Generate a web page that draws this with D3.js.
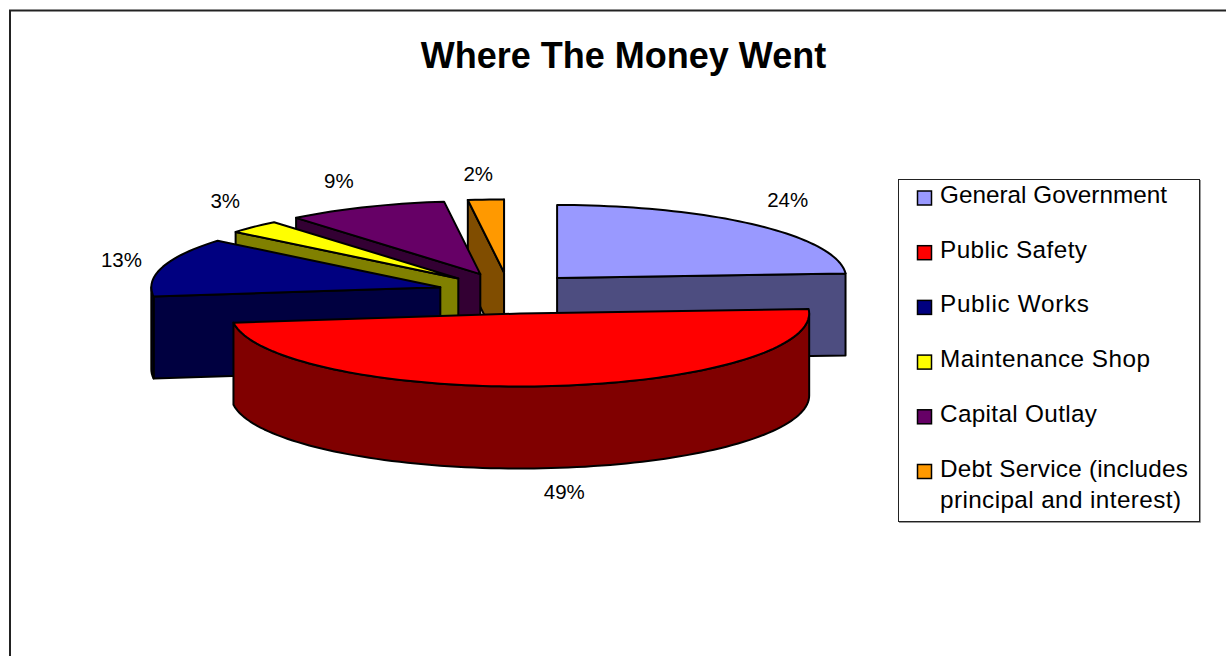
<!DOCTYPE html>
<html>
<head>
<meta charset="utf-8">
<script src="https://cdn.jsdelivr.net/npm/d3@7"></script>
<style>
  body { margin: 0; background: #fff; }
  text { font-family: "Liberation Sans", Arial, sans-serif; fill: #000; }
</style>
</head>
<body>
<div id="chart"></div>
<script>
// chart data
var categories = ["General Government", "Public Safety", "Public Works", "Maintenance Shop", "Capital Outlay", "Debt Service (includes principal and interest)"];
var percents = [24, 49, 13, 3, 9, 2];
var topColors = ["#9999ff", "#ff0000", "#000080", "#ffff00", "#660066", "#ff9900"];
var sideColors = ["#4d4d80", "#800000", "#000040", "#808000", "#330033", "#804d00"];
var legendLines = [["General Government"], ["Public Safety"], ["Public Works"], ["Maintenance Shop"], ["Capital Outlay"], ["Debt Service (includes", "principal and interest)"]];

// layout of the tilted pie
var width = 1226, height = 656;
var baseX = 508.5, baseY = 293;
var radiusX = 289, radiusY = 73, depth = 82;
var explodeX = 71, explodeY = 20.6;
var labelGapX = 42, labelGapY = 27;
// hand placed corrections, same order as categories
var centerNudge = [0, 5, 0, 0, 0, 0];
var labelNudge = [[4, -5], [13, -3], [-1, 1], [1, -7], [-10, -1], [-5, 1]];
// legend text widths as they come out in the picture
var legendWidths = [[227], [147], [149], [210], [157], [248, 241]];

var svg = d3.select("#chart")
  .append("svg")
  .attr("width", width)
  .attr("height", height)
  .style("display", "block");

// outer frame, only left and top edges are in the picture
svg.append("path")
  .attr("d", d3.line()([[10, height], [10, 10.5], [width, 10.5]]))
  .attr("fill", "none")
  .attr("stroke", "#222")
  .attr("stroke-width", 2);

svg.append("text")
  .attr("x", 623.5)
  .attr("y", 68)
  .attr("text-anchor", "middle")
  .style("font-size", "36px")
  .style("font-weight", "bold")
  .text("Where The Money Went");

var colorTop = d3.scaleOrdinal(categories, topColors);
var colorSide = d3.scaleOrdinal(categories, sideColors);

var slices = d3.pie().sort(null)(percents).map(function(d, i) {
  var mid = (d.startAngle + d.endAngle) / 2;
  return {
    name: categories[i],
    value: d.value,
    start: d.startAngle,
    end: d.endAngle,
    mid: mid,
    cx: baseX + explodeX * Math.sin(mid) + centerNudge[i],
    cy: baseY - explodeY * Math.cos(mid),
    nudge: labelNudge[i]
  };
});

var line = d3.line();

function rim(s, a, z) {
  return [s.cx + radiusX * Math.sin(a), s.cy - radiusY * Math.cos(a) + z];
}

function arcPoints(s, a0, a1, z) {
  var n = Math.max(2, Math.ceil((a1 - a0) / 0.03));
  return d3.range(n + 1).map(function(k) {
    return rim(s, a0 + (a1 - a0) * k / n, z);
  });
}

function wall(s, a) {
  return line([[s.cx, s.cy], rim(s, a, 0), rim(s, a, depth), [s.cx, s.cy + depth]]) + "Z";
}

// back slices first
var drawOrder = slices.slice().sort(function(a, b) { return Math.cos(b.mid) - Math.cos(a.mid); });

var pie = svg.append("g")
  .attr("stroke", "#000")
  .attr("stroke-width", 2)
  .attr("stroke-linejoin", "round");

drawOrder.forEach(function(s) {
  var g = pie.append("g");
  var side = colorSide(s.name);

  // radial walls turned towards the viewer
  if (Math.sin(s.start) < 0) g.append("path").attr("d", wall(s, s.start)).attr("fill", side);
  if (Math.sin(s.end) > 0) g.append("path").attr("d", wall(s, s.end)).attr("fill", side);

  // curved wall, only the front half of the rim shows
  var a0 = Math.max(s.start, Math.PI / 2), a1 = Math.min(s.end, Math.PI * 1.5);
  if (a1 > a0) {
    var upper = arcPoints(s, a0, a1, 0);
    var lower = arcPoints(s, a0, a1, depth).reverse();
    g.append("path").attr("d", line(upper.concat(lower)) + "Z").attr("fill", side);
  }

  g.append("path")
    .attr("d", line([[s.cx, s.cy]].concat(arcPoints(s, s.start, s.end, 0))) + "Z")
    .attr("fill", colorTop(s.name));
});

// percent labels
svg.append("g")
  .selectAll("text")
  .data(slices)
  .enter()
  .append("text")
  .attr("x", function(d) { return d.cx + (radiusX + labelGapX) * Math.sin(d.mid) + d.nudge[0]; })
  .attr("y", function(d) {
    var front = Math.cos(d.mid) < 0 ? depth : 0;
    return d.cy - (radiusY + labelGapY) * Math.cos(d.mid) + front + d.nudge[1] + 7;
  })
  .attr("text-anchor", "middle")
  .style("font-size", "20.5px")
  .text(function(d) { return d.value + "%"; });

// legend
var legend = svg.append("g");

legend.append("rect")
  .attr("x", 898.5)
  .attr("y", 179.5)
  .attr("width", 301)
  .attr("height", 342)
  .attr("fill", "#fff")
  .attr("stroke", "#222")
  .attr("stroke-width", 1);

// grey shadow on the right and bottom edge
legend.append("path")
  .attr("d", d3.line()([[1200.5, 180], [1200.5, 522.5], [899, 522.5]]))
  .attr("fill", "none")
  .attr("stroke", "#999")
  .attr("stroke-width", 1);

var rowY = d3.scalePoint()
  .domain(categories)
  .range([203, 476.5]);

var rows = legend.selectAll("g.row")
  .data(categories)
  .enter()
  .append("g")
  .attr("class", "row")
  .attr("transform", function(d) { return "translate(0," + rowY(d) + ")"; });

rows.append("rect")
  .attr("x", 917.5)
  .attr("y", -12)
  .attr("width", 14)
  .attr("height", 14)
  .attr("fill", function(d) { return colorTop(d); })
  .attr("stroke", "#000")
  .attr("stroke-width", 1.5);

rows.append("text")
  .style("font-size", "24.3px")
  .selectAll("tspan")
  .data(function(d, i) {
    return legendLines[i].map(function(t, j) { return { text: t, len: legendWidths[i][j], line: j }; });
  })
  .enter()
  .append("tspan")
  .attr("x", 940)
  .attr("y", function(d) { return d.line * 31; })
  .attr("textLength", function(d) { return d.len; })
  .text(function(d) { return d.text; });
</script>
</body>
</html>
